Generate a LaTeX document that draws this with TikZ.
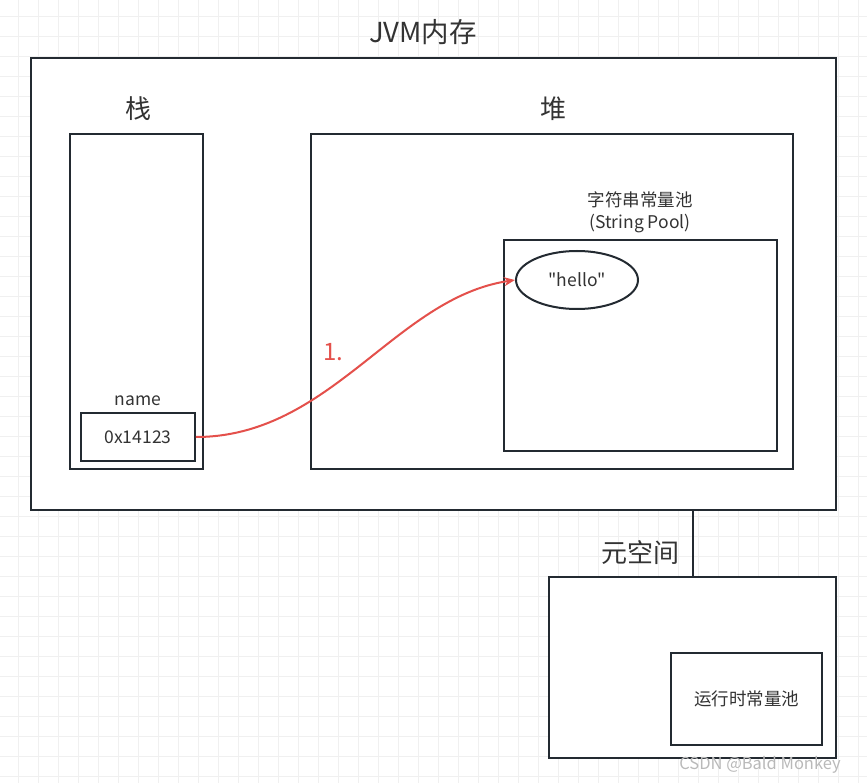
\documentclass[tikz,border=0pt]{standalone}
\usepackage{fontspec}
\setmainfont{Noto Sans CJK SC}
\newfontfamily\plainfont{Noto Sans CJK SC}
\usetikzlibrary{shapes.geometric,arrows.meta}
\definecolor{inkdark}{HTML}{232A31}
\definecolor{txtgray}{HTML}{333333}
\definecolor{arrowred}{HTML}{E4504B}

\begin{document}
\begin{tikzpicture}[x=1pt,y=-1pt,
    box/.style={draw=inkdark,line width=2pt,fill=white,rectangle,inner sep=0pt},
    txt/.style={text=txtgray,font=\fontsize{17.5}{22}\selectfont,inner sep=0pt},
    bigtxt/.style={text=txtgray,font=\fontsize{26}{30}\selectfont,inner sep=0pt}]
    \useasboundingbox (0,0) rectangle (867,783);

    % Grid
    \foreach \x in {0,...,42} {
        \draw[gray!12,line width=0.8pt] (18.3+20*\x,0) -- (18.3+20*\x,783);
    }
    \foreach \y in {0,...,38} {
        \draw[gray!12,line width=0.8pt] (0,16.7+20*\y) -- (867,16.7+20*\y);
    }

    % JVM memory
    \node[box,minimum width=805pt,minimum height=452pt] (jvm) at (433.5,284) {};
    \node[bigtxt,font=\fontsize{27.5}{30}\selectfont] (jvmlbl) at (423,32) {JVM内存};

    % Stack
    \node[box,minimum width=133pt,minimum height=335pt] (stack) at (136.5,301.5) {};
    \node[bigtxt] (stacklbl) at (138,109) {栈};
    \node[box,line width=1.8pt,minimum width=114pt,minimum height=48pt,txt] (addr) at (138,437) {0x14123};
    \node[txt] (namelbl) at (138,401) {name};

    % Heap
    \node[box,minimum width=482pt,minimum height=335pt] (heap) at (552,301.5) {};
    \node[bigtxt] (heaplbl) at (553,109) {堆};
    \node[box,minimum width=273pt,minimum height=211pt] (pool) at (640.5,345.5) {};
    \node[txt,align=center] (poollbl) at (640,212) {字符串常量池\\(String Pool)};
    \node[ellipse,draw=inkdark,line width=2pt,minimum width=122pt,minimum height=58pt,txt] (hello) at (577,280) {\plainfont "hello"};

    % Reference
    \draw[arrowred,line width=2pt,-{Stealth[length=11pt,width=9pt]}]
        (addr.east) .. controls +(135,0) and +(-120,18) .. (hello.west);
    \node[text=arrowred,font=\fontsize{24}{28}\selectfont,inner sep=0pt] (step1) at (333,352) {1.};

    % Metaspace
    \node[box,minimum width=287pt,minimum height=181pt] (meta) at (692.5,667.5) {};
    \node[bigtxt] (metalbl) at (640,553) {元空间};
    \node[box,minimum width=151pt,minimum height=92pt,txt] (rtpool) at (746.5,699) {运行时常量池};
    \draw[inkdark,line width=2pt] (jvm.south -| meta.north) -- (meta.north);

    % Watermark
    \node[text=gray!55,font=\fontsize{16.5}{18}\selectfont,inner sep=0pt] (mark) at (760,765) {CSDN @Bald Monkey};
\end{tikzpicture}
\end{document}
